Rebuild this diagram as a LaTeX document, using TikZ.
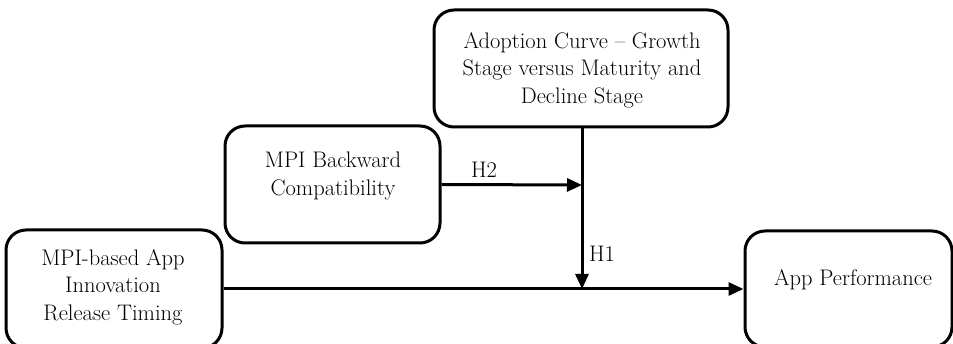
\documentclass[tikz,border=0pt]{standalone}
\usetikzlibrary{arrows.meta}
\begin{document}
\begin{tikzpicture}[x=1pt,y=-1pt,
  box/.style={draw=black, line width=3pt, rounded corners=20pt, fill=white, inner sep=0pt},
  txt/.style={align=center, font=\fontsize{22.5}{27.5}\selectfont},
  conn/.style={line width=3pt, -{Triangle[length=15pt,width=13pt]}},
  lab/.style={font=\fontsize{22.5}{27}\selectfont}]
\useasboundingbox (0,0) rectangle (953,344);
\clip (0,0) rectangle (953,344);
\fill[white] (0,0) rectangle (953,344);
% boxes
\node[box, minimum width=294pt, minimum height=117pt] (top) at (581,68.5) {};
\node[txt] (toptxt) at (582,70) {Adoption Curve -- Growth\\Stage versus Maturity and\\Decline Stage};
\node[box, minimum width=215pt, minimum height=117pt] (mid) at (332.5,184.5) {};
\node[txt] (midtxt) at (333,176) {MPI Backward\\Compatibility};
\node[box, minimum width=216pt, minimum height=118pt] (left) at (114,289) {};
\node[txt] (lefttxt) at (113,287) {MPI-based App\\Innovation\\Release Timing};
\node[box, minimum width=207pt, minimum height=116pt] (perf) at (848.5,289) {};
\node[txt] (perftxt) at (853,280) {App Performance};
% connectors
\coordinate (j1) at (582,185);
\coordinate (j2) at (582,289);
\draw[conn] (left.east) -- (perf.west);
\draw[conn] (top.south -| j1) -- (j2);
\draw[conn] (mid.east) -- (j1);
\node[lab] (h2) at (484,170) {H2};
\node[lab] (h1) at (602,254) {H1};
\end{tikzpicture}
\end{document}
